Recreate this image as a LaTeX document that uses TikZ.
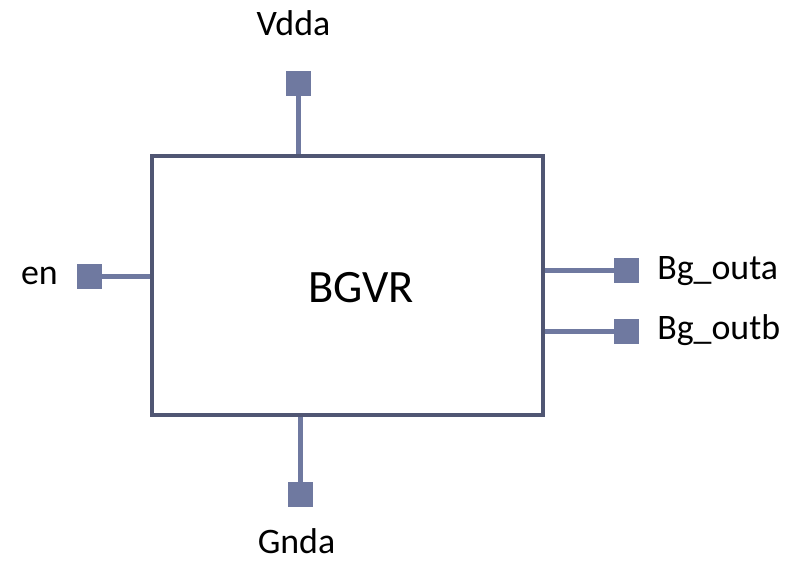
\documentclass[tikz,border=0pt]{standalone}
\usepackage{fontspec}
\setmainfont{Carlito}
\usetikzlibrary{positioning}
\definecolor{boxborder}{RGB}{80,86,115}
\definecolor{pincolor}{RGB}{111,121,160}

\begin{document}
\begin{tikzpicture}[x=0.025cm, y=-0.025cm]

% Canvas
\useasboundingbox (0,0) rectangle (797,560);

% Pin styles
\tikzset{
    pinsq/.style={fill=pincolor, minimum size=25*0.025cm, inner sep=0pt},
    pinwire/.style={pincolor, line width=3pt},
    pinlabel/.style={font=\fontsize{25.5}{28}\selectfont, inner sep=0pt}
}

% Main block
\node[draw=boxborder, line width=3.2pt, minimum width=391*0.025cm, minimum height=259*0.025cm, inner sep=0pt] (BGVR) at (347.5, 285.5) {};
\node[font=\fontsize{33}{38}\selectfont, anchor=base] (title) at (361, 302) {BGVR};

% Pins
\node[pinsq] (vdda) at (298.5, 83.5) {};
\node[pinsq] (gnda) at (300.5, 494.5) {};
\node[pinsq] (en) at (89.5, 276.5) {};
\node[pinsq] (outa) at (626.5, 270.5) {};
\node[pinsq] (outb) at (626.5, 331.5) {};

% Wires
\draw[pinwire] (vdda) -- (vdda |- BGVR.north);
\draw[pinwire] (gnda) -- (gnda |- BGVR.south);
\draw[pinwire] (en) -- (en -| BGVR.west);
\draw[pinwire] (outa) -- (outa -| BGVR.east);
\draw[pinwire] (outb) -- (outb -| BGVR.east);

% Labels
\node[pinlabel, anchor=base] (vddaL) at (293.5, 35) {Vdda};
\node[pinlabel, anchor=base] (gndaL) at (296.5, 553) {Gnda};
\node[pinlabel, anchor=base east] (enL) at (58, 284) {en};
\node[pinlabel, anchor=base west] (outaL) at (657, 279) {Bg\_outa};
\node[pinlabel, anchor=base west] (outbL) at (657, 339) {Bg\_outb};

\end{tikzpicture}
\end{document}
